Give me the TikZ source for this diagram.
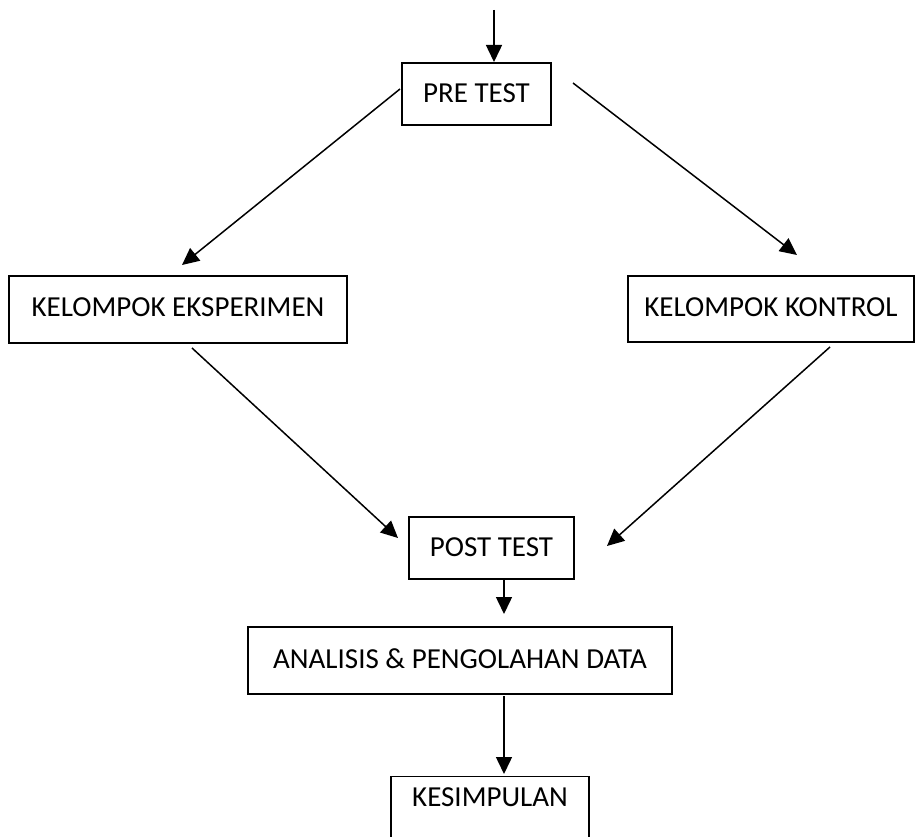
\documentclass[tikz,border=0pt]{standalone}
\usepackage{fontspec}
\setmainfont{Carlito}
\usetikzlibrary{arrows.meta}
\begin{document}
\begin{tikzpicture}[x=1pt,y=-1pt,
  box/.style={draw=black,line width=1.3pt,rectangle,inner sep=0pt,font=\fontsize{29}{32}\selectfont},
  conn/.style={line width=1.5pt,-{Triangle[length=17pt,width=16pt]}}]
\useasboundingbox (0,0) rectangle (916,837);
\node[box,minimum width=149pt,minimum height=62pt] (pre) at (476.5,94) {\raisebox{1.5pt}{PRE TEST}};
\node[box,minimum width=338pt,minimum height=67pt] (eks) at (178,309.5) {\raisebox{4pt}{KELOMPOK EKSPERIMEN}};
\node[box,minimum width=286pt,minimum height=66pt] (kon) at (771,309) {\raisebox{4pt}{KELOMPOK KONTROL}};
\node[box,minimum width=165pt,minimum height=62pt] (post) at (491.5,548) {\raisebox{1.5pt}{POST TEST}};
\node[box,minimum width=424pt,minimum height=67pt] (ana) at (460,660.5) {\raisebox{4pt}{ANALISIS \& PENGOLAHAN DATA}};
\node[box,minimum width=198pt,minimum height=70pt,anchor=north] (kes) at (490,776) {\raisebox{5pt}[0pt][0pt]{KESIMPULAN}};
\coordinate (in) at (494,10);
\coordinate (preT) at (494,62);
\coordinate (preL) at (400,89);
\coordinate (eksT) at (182,265);
\coordinate (preR) at (573,83);
\coordinate (konT) at (797,255);
\coordinate (eksB) at (192,348);
\coordinate (postL) at (398,538);
\coordinate (konB) at (830,347);
\coordinate (postR) at (607,546);
\coordinate (postB) at (504,579);
\coordinate (anaT) at (504,614);
\coordinate (anaB) at (504,696);
\coordinate (kesT) at (504,774);
\draw[conn] (in) -- (preT);
\draw[conn] (preL) -- (eksT);
\draw[conn] (preR) -- (konT);
\draw[conn] (eksB) -- (postL);
\draw[conn] (konB) -- (postR);
\draw[conn] (postB) -- (anaT);
\draw[conn] (anaB) -- (kesT);
\end{tikzpicture}
\end{document}
